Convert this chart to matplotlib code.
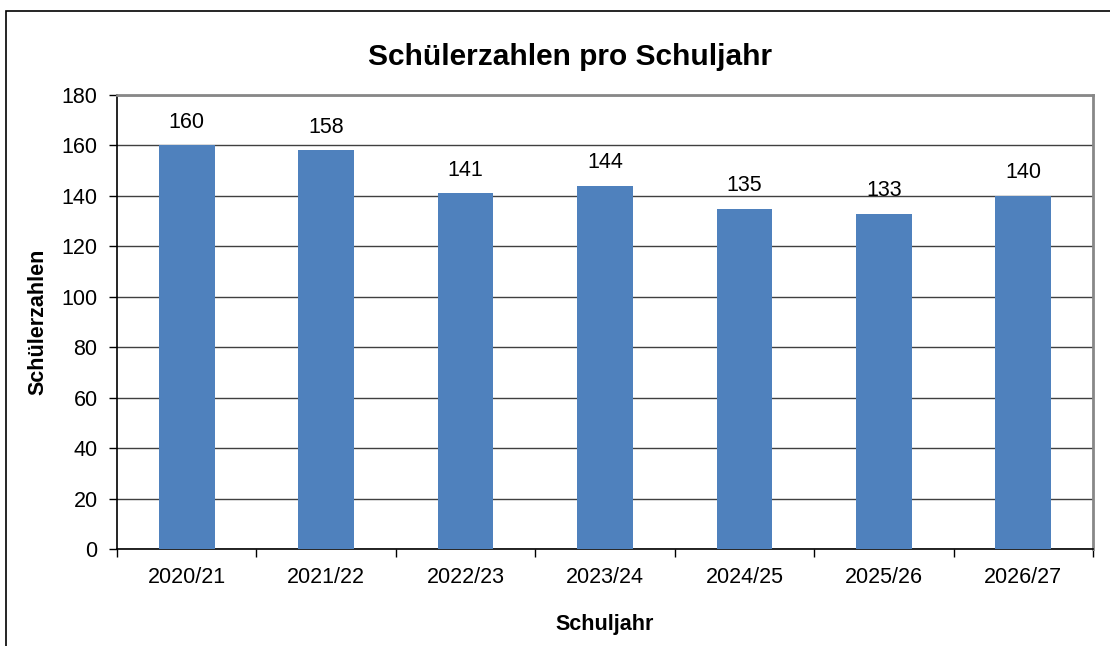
import numpy as np
import matplotlib.pyplot as plt
from matplotlib.patches import Rectangle

plt.rcParams['font.family'] = ['Liberation Sans', 'DejaVu Sans']

jahre = ['2020/21', '2021/22', '2022/23', '2023/24', '2024/25', '2025/26', '2026/27']
schueler = [160, 158, 141, 144, 135, 133, 140]

fig = plt.figure(figsize=(11.1, 6.46), dpi=100)
ax = fig.add_axes([117/1110, 1 - 549/646, (1093-117)/1110, (549-95)/646])

# chart area border (runs off right/bottom edge like the original)
fig.patches.append(Rectangle((6/1110, -0.2), 1.2, 1.2 - 11/646, transform=fig.transFigure,
                             fill=False, edgecolor='black', linewidth=1.2, zorder=0))

x = np.arange(len(jahre))
bars = ax.bar(x, schueler, width=0.4, color='#4F81BD', zorder=3)

for xi, v in zip(x, schueler):
    ax.annotate(str(v), (xi, v), xytext=(0, 9), textcoords='offset points',
                ha='center', va='bottom', fontsize=15.5)

ax.set_xlim(-0.5, len(jahre) - 0.5)
ax.set_ylim(0, 180)
ax.set_yticks(np.arange(0, 181, 20))
ax.yaxis.grid(True, color='#404040', linewidth=1)
ax.set_axisbelow(True)

ax.set_xticks(x)
ax.set_xticklabels(jahre)
ax.set_xticks(np.arange(-0.5, len(jahre)), minor=True)
ax.tick_params(axis='x', which='major', length=0, pad=13, labelsize=15.5)
ax.tick_params(axis='x', which='minor', length=6, width=1, direction='out')
ax.tick_params(axis='y', length=6, width=1, pad=8, labelsize=15.5)

for s in ['left', 'bottom']:
    ax.spines[s].set_color('black')
    ax.spines[s].set_linewidth(1.2)
for s in ['top', 'right']:
    ax.spines[s].set_color('#888888')
    ax.spines[s].set_linewidth(2)

ax.set_xlabel('Schuljahr', fontsize=15.5, fontweight='bold', labelpad=19)
ax.set_ylabel('Schülerzahlen', fontsize=15.5, fontweight='bold', labelpad=9)
fig.text(570/1110, 1 - 57/646, 'Schülerzahlen pro Schuljahr', ha='center', va='center',
         fontsize=21.5, fontweight='bold')

fig.savefig('out.png', dpi=100)
